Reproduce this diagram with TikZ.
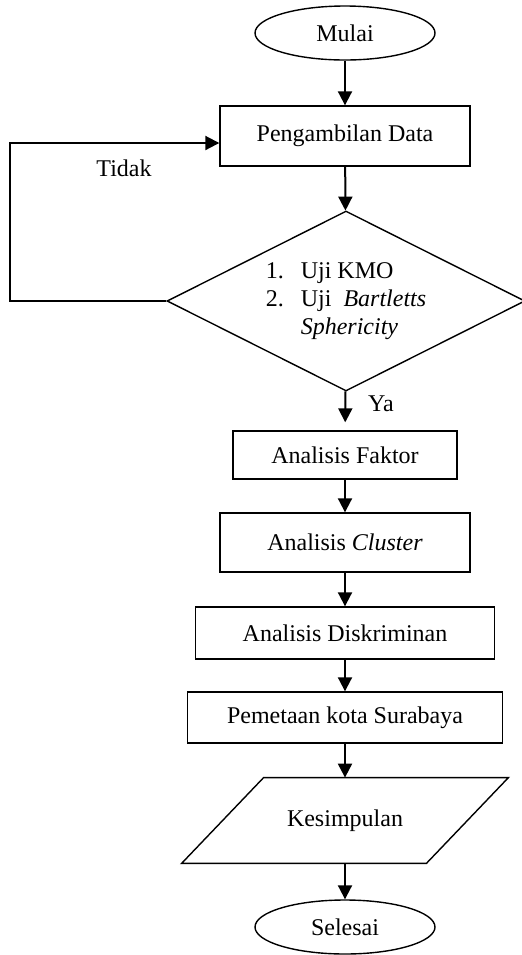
\documentclass[tikz,border=0pt]{standalone}
\usepackage{fontspec}
\setmainfont{Liberation Serif}
\usetikzlibrary{shapes.geometric,arrows.meta}

\begin{document}
\begin{tikzpicture}[x=0.5pt,y=-0.5pt,
    every node/.style={font=\fontsize{12}{14}\selectfont},
    terminal/.style={draw, ellipse, line width=0.7pt, minimum width=90pt, minimum height=27pt, inner sep=0pt},
    proses/.style={draw, rectangle, line width=0.7pt, inner sep=0pt},
    keputusan/.style={draw, diamond, aspect=2, line width=0.7pt, minimum width=179pt, minimum height=90pt, inner sep=0pt},
    panah/.style={line width=1pt, -{Triangle[width=7pt,length=7pt]}}]
    \useasboundingbox (0,0) rectangle (522,955);

    \node[terminal] (mulai) at (345,33) {Mulai};
    \node[proses, minimum width=125pt, minimum height=30pt] (data) at (345,136) {Pengambilan Data};
    \node[keputusan] (uji) at (346,301) {\begin{tabular}{@{}l@{\hspace{8.5pt}}l@{}}
        1. & Uji KMO\\
        2. & Uji \ \textit{Bartletts}\\
           & \textit{Sphericity}
        \end{tabular}};
    \node[proses, minimum width=112pt, minimum height=24pt] (faktor) at (345,455) {Analisis Faktor};
    \node[proses, minimum width=125pt, minimum height=29.5pt] (cluster) at (345,542.5) {Analisis \textit{Cluster}};
    \node[proses, minimum width=149.5pt, minimum height=26pt] (diskrim) at (345,633) {Analisis Diskriminan};
    \node[proses, minimum width=157.5pt, minimum height=25.5pt] (peta) at (345,717.5) {Pemetaan kota Surabaya};
    \node[inner sep=0pt, minimum width=122pt, minimum height=42.5pt] (simpul) at (345,820.5) {Kesimpulan};
    \draw[line width=0.7pt] ([xshift=-20.5pt]simpul.south west) -- ([xshift=-20.5pt]simpul.south east)
        -- ([xshift=20.5pt]simpul.north east) -- ([xshift=20.5pt]simpul.north west) -- cycle;
    \node[terminal] (selesai) at (345,927) {Selesai};

    \node (ya) at (381,404) {Ya};
    \node (tidak) at (124,168) {Tidak};

    \draw[panah] (mulai) -- (data);
    \draw[panah] (data) -- (uji);
    \draw[panah, shorten >=4pt] (uji) -- (faktor);
    \foreach \a/\b in {faktor/cluster, cluster/diskrim, diskrim/peta, peta/simpul, simpul/selesai}
        \draw[panah] (\a) -- (\b);

    \coordinate (balik) at (10,301);
    \draw[panah] (uji.west) -- (balik) |- ([yshift=-3.5pt]data.west);
\end{tikzpicture}
\end{document}
